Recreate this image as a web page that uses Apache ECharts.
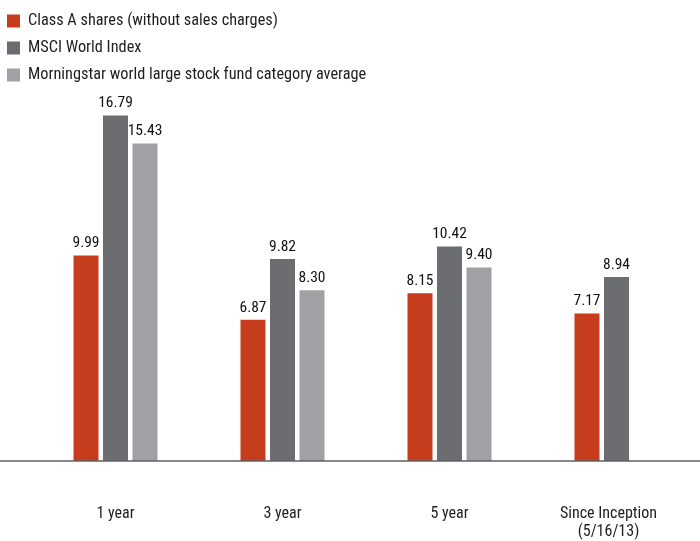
<!DOCTYPE html>
<html>
<head>
<meta charset="utf-8">
<script src="https://cdn.jsdelivr.net/npm/echarts@6/dist/echarts.min.js"></script>
<style>html,body{margin:0;padding:0;background:#fff}#c{width:700px;height:541px}</style>
</head>
<body>
<div id="c"></div>
<script>
var categories = ['1 year', '3 year', '5 year', 'Since Inception\n(5/16/13)'];
var seriesNames = ['Class A shares (without sales charges)', 'MSCI World Index', 'Morningstar world large stock fund category average'];
var classA = [9.99, 6.87, 8.15, 7.17];
var msci = [16.79, 9.82, 10.42, 8.94];
var morningstar = [15.43, 8.30, 9.40, null];
var colors = ['#C63D1E', '#6C6D70', '#A0A1A4'];
var FONT = '"Roboto Condensed", "Liberation Sans Narrow", sans-serif';

var chart = echarts.init(document.getElementById('c'), null, {renderer: 'canvas'});
function mk(name, data, color) {
  return {
    name: name, type: 'bar', data: data, barWidth: 25, barGap: '18%',
    itemStyle: {color: color},
    label: {show: true, position: 'top', distance: 4, color: '#111', fontFamily: FONT, fontSize: 15.5,
      formatter: function (p) { return p.value == null ? '' : Number(p.value).toFixed(2); }}
  };
}
chart.setOption({
  animation: false,
  color: colors,
  legend: {
    orient: 'vertical', left: 2, top: 8, itemWidth: 13, itemHeight: 13, itemGap: 11,
    icon: 'rect',
    textStyle: {fontFamily: FONT, fontSize: 16.3, color: '#1e1e1e', padding: [0, 0, 0, 3], lineHeight: 16},
    data: seriesNames
  },
  grid: {left: 32, width: 672, top: 49.5, bottom: 78, containLabel: false},
  xAxis: {
    type: 'category', data: categories,
    axisLine: {show: false}, axisTick: {show: false},
    axisLabel: {
      interval: 0, margin: 44, color: '#1e1e1e', fontFamily: FONT, fontSize: 16, lineHeight: 18,
      formatter: function (v, i) { return i === 3 ? '{s|' + v.replace('\n', '}\n{s|') + '}' : v; },
      rich: {s: {fontFamily: FONT, fontSize: 16, lineHeight: 18, color: '#1e1e1e', padding: [0, 16, 0, 0]}}
    }
  },
  yAxis: {type: 'value', min: 0, max: 20, show: false, splitLine: {show: false}},
  series: [mk(seriesNames[0], classA, colors[0]), mk(seriesNames[1], msci, colors[1]), mk(seriesNames[2], morningstar, colors[2])]
});
var y0 = chart.convertToPixel({yAxisIndex: 0}, 0);
chart.setOption({
  graphic: [{type: 'line', z: 100, shape: {x1: 0, y1: y0, x2: 700, y2: y0}, style: {stroke: '#5f6063', lineWidth: 1.6}}]
});
</script>
</body>
</html>
